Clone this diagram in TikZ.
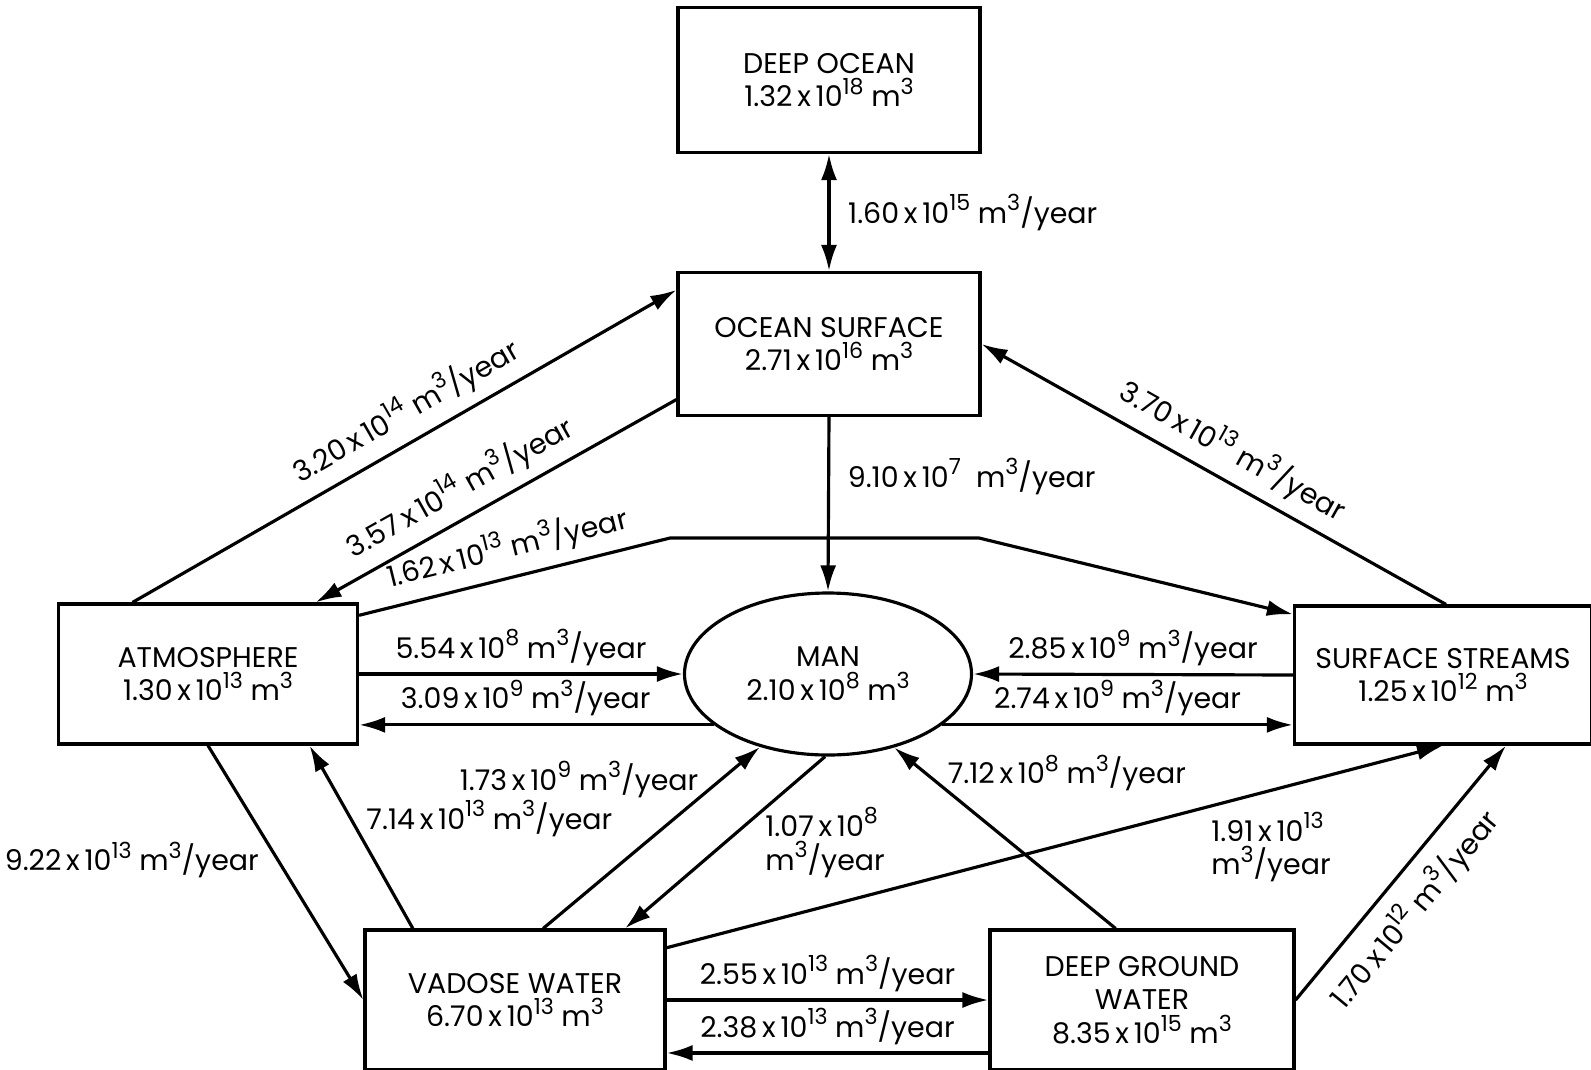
\documentclass[tikz,border=0pt]{standalone}
\usepackage{fontspec}
\setmainfont{Poppins}
\usetikzlibrary{arrows.meta,calc,shapes.geometric}
\newcommand{\sups}[1]{\raisebox{.8ex}{\fontsize{6.3}{6.3}\selectfont#1}}
\newcommand{\tenp}[1]{\,x\,10\sups{#1}}
\newcommand{\vol}{m\sups{3}}
\newcommand{\peryr}{m\sups{3}/year}

\begin{document}
\begin{tikzpicture}[x=0.1mm,y=-0.1mm,line width=0.9pt,
    every node/.style={font=\fontsize{8.1}{9.6}\selectfont,inner sep=1pt},
    store/.style={draw,rectangle,align=center,minimum width=30mm,minimum height=14mm},
    flow/.style={-{Latex[length=2.6mm,width=1.6mm]}},
    back/.style={{Latex[length=2.6mm,width=1.6mm]}-},
    both/.style={{Latex[length=2.6mm,width=1.6mm]}-{Latex[length=2.6mm,width=1.6mm]}}]
    \useasboundingbox (0,0) rectangle (1591,1069);
    \node[store,minimum width=30.2mm,minimum height=14.5mm] (deepocean) at (829,80) {DEEP OCEAN\\1.32\tenp{18} \vol};
    \node[store,minimum width=30.2mm,minimum height=14.3mm] (oceansurf) at (829,344) {OCEAN SURFACE\\2.71\tenp{16} \vol};
    \node[store,minimum width=29.9mm] (atmos) at (208,674) {ATMOSPHERE\\1.30\tenp{13} \vol};
    \node[draw,ellipse,align=center,minimum width=28.7mm,minimum height=16.2mm,inner sep=0pt] (man) at (828,674) {MAN\\2.10\tenp{8} \vol};
    \node[store,minimum width=29.7mm,minimum height=13.8mm] (streams) at (1443,675) {SURFACE STREAMS\\1.25\tenp{12} \vol};
    \node[store] (vadose) at (515,1000) {VADOSE WATER\\6.70\tenp{13} \vol};
    \node[store,minimum width=30.4mm] (deepgw) at (1142,1000) {DEEP GROUND\\WATER\\8.35\tenp{15} \vol};
    \coordinate (bendl) at (670,538);
    \coordinate (bendr) at (979,538);
    \coordinate (vlow) at ($(vadose.north east)!.87!(vadose.south east)$);

    \draw[both] (deepocean.south) -- (oceansurf.north) node[midway,right=4pt] {1.60\tenp{15} \peryr};
    \draw[flow] ($(atmos.north west)!.25!(atmos.north east)$) -- ($(oceansurf.north west)!.13!(oceansurf.south west)$) node[pos=.53,sloped,above=2pt] {3.20\tenp{14} \peryr};
    \draw[back] ($(atmos.north west)!.856!(atmos.north east)$) -- ($(oceansurf.north west)!.88!(oceansurf.south west)$) node[pos=.44,sloped,above=2pt] {3.57\tenp{14} \peryr};
    \draw[flow] ($(atmos.north east)!.09!(atmos.south east)$) -- node[sloped,above=2pt] {1.62\tenp{13} \peryr} (bendl) -- (bendr) -- ($(streams.north west)!.07!(streams.south west)$);
    \draw[back] (oceansurf.east) -- ($(streams.north west)!.51!(streams.north east)$) node[pos=.51,sloped,above=2pt] {3.70\tenp{13} \peryr};
    \draw[flow] (oceansurf.south) -- (man.north) node[pos=.34,right=4pt] {9.10\tenp{7}\ \ \peryr};

    \draw[flow] (atmos.east) -- (man.west) node[midway,above=1pt] {5.54\tenp{8} \peryr};
    \draw[back] (atmos.east |- man.204) -- (man.204) node[pos=.47,above=1pt] {3.09\tenp{9} \peryr};
    \draw[back] (man.east) -- (streams.west) node[midway,above=1pt] {2.85\tenp{9} \peryr};
    \draw[flow] (man.336) -- (man.336 -| streams.west) node[midway,above=1pt] {2.74\tenp{9} \peryr};

    \draw[flow] (atmos.south) -- (vadose.west) node[pos=.45,left=4pt] {9.22\tenp{13} \peryr};
    \draw[back] ($(atmos.south west)!.836!(atmos.south east)$) -- ($(vadose.north west)!.163!(vadose.north east)$) node[pos=.4,right=3pt] {7.14\tenp{13} \peryr};
    \draw[flow] ($(vadose.north west)!.593!(vadose.north east)$) -- (man.227) node[pos=.82,left=5pt] {1.73\tenp{9} \peryr};
    \draw[flow] (man.268) -- ($(vadose.north west)!.863!(vadose.north east)$) node[pos=.5,right=10pt,align=left] {1.07\tenp{8}\\\peryr};
    \draw[flow] ($(deepgw.north west)!.414!(deepgw.north east)$) -- (man.312) node[pos=.86,right=5pt] {7.12\tenp{8} \peryr};
    \draw[flow] ($(vadose.north east)!.135!(vadose.south east)$) -- (streams.south) node[pos=.695,below right,align=left] {1.91\tenp{13}\\\peryr};
    \draw[flow] (deepgw.east) -- ($(streams.south west)!.71!(streams.south east)$) node[pos=.44,sloped,below=3pt] {1.70\tenp{12} \peryr};
    \draw[flow] (vadose.east) -- (deepgw.west) node[midway,above=1pt] {2.55\tenp{13} \peryr};
    \draw[back] (vlow) -- (vlow -| deepgw.west) node[midway,above=1pt] {2.38\tenp{13} \peryr};
\end{tikzpicture}
\end{document}
